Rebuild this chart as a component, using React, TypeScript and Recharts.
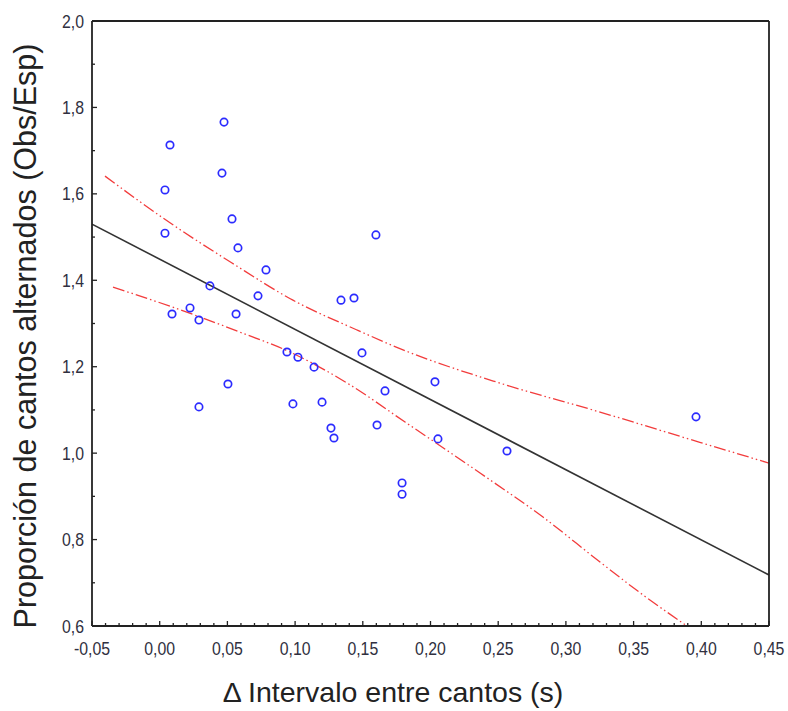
import React from "react";
import {
  ComposedChart,
  Scatter,
  Line,
  XAxis,
  YAxis,
  Label,
} from "recharts";

// observed points: delta interval (s) vs proportion obs/esp
const deltaX = [
  0.0076, 0.0039, 0.0039, 0.0475, 0.046, 0.0534, 0.0578, 0.0785, 0.0371, 0.0726,
  0.0224, 0.0091, 0.029, 0.0564, 0.1339, 0.1435, 0.1597, 0.1494, 0.094, 0.1021,
  0.114, 0.0504, 0.029, 0.0984, 0.1199, 0.1664, 0.2033, 0.1265, 0.1287, 0.1605,
  0.2055, 0.2565, 0.179, 0.179, 0.3961,
];
const proportion = [
  1.713, 1.609, 1.509, 1.766, 1.648, 1.542, 1.475, 1.424, 1.387, 1.364,
  1.336, 1.322, 1.308, 1.322, 1.354, 1.359, 1.505, 1.232, 1.234, 1.222,
  1.199, 1.16, 1.107, 1.114, 1.118, 1.144, 1.165, 1.058, 1.035, 1.065,
  1.033, 1.005, 0.931, 0.905, 1.084,
];

// fitted line (end points)
const fitX = [-0.05, 0.45];
const fitY = [1.53, 0.718];

// 95% band, upper and lower
const upperX = [-0.0404, 0.0076, 0.0534, 0.0984, 0.1457, 0.1797, 0.2513, 0.3252, 0.3989, 0.45];
const upperY = [1.641, 1.533, 1.44, 1.354, 1.285, 1.239, 1.162, 1.095, 1.025, 0.977];
const lowerX = [-0.0345, 0.0076, 0.0593, 0.0962, 0.1406, 0.1812, 0.2366, 0.2831, 0.3252, 0.3569, 0.3894];
const lowerY = [1.384, 1.34, 1.28, 1.234, 1.158, 1.072, 0.954, 0.852, 0.748, 0.672, 0.6];

const xMajor = [-0.05, 0, 0.05, 0.1, 0.15, 0.2, 0.25, 0.3, 0.35, 0.4, 0.45];
const yMajor = [0.6, 0.8, 1.0, 1.2, 1.4, 1.6, 1.8, 2.0];

const xTicks = Array.from({ length: 51 }, (_, i) => Math.round((-0.05 + i * 0.01) * 100) / 100);
const yTicks = Array.from({ length: 15 }, (_, i) => Math.round((0.6 + i * 0.1) * 10) / 10);

const pts = deltaX.map((x, i) => ({ x, y: proportion[i] }));
const fit = fitX.map((x, i) => ({ x, y: fitY[i] }));
const upper = upperX.map((x, i) => ({ x, y: upperY[i] }));
const lower = lowerX.map((x, i) => ({ x, y: lowerY[i] }));

const isMajor = (v: number, list: number[]) => list.some((m) => Math.abs(m - v) < 1e-6);
const comma = (v: number, d: number) => v.toFixed(d).replace(".", ",");

const LABEL_COLOR = "#303040";
const FONT = "'Liberation Sans', Arial, sans-serif";
const RED = "#f23c3c";
const INK = "#222";

const BottomTick = (props: any) => {
  const { x, y, payload } = props;
  const major = isMajor(payload.value, xMajor);
  return (
    <g>
      <line x1={x} x2={x} y1={y} y2={y - (major ? 5 : 3)} stroke={INK} strokeWidth={1.3} />
      {major && (
        <text
          transform={`translate(${x},${y + 29}) scale(0.88,1)`}
          textAnchor="middle"
          fontSize={18}
          fontFamily={FONT}
          fill={LABEL_COLOR}
        >
          {comma(payload.value, 2)}
        </text>
      )}
    </g>
  );
};

const TopTick = (props: any) => {
  const { x, y, payload } = props;
  const major = isMajor(payload.value, xMajor);
  return <line x1={x} x2={x} y1={y} y2={y + (major ? 5 : 3)} stroke={INK} strokeWidth={1.3} />;
};

const LeftTick = (props: any) => {
  const { x, y, payload } = props;
  const major = isMajor(payload.value, yMajor);
  return (
    <g>
      <line x1={x} x2={x + (major ? 5 : 3)} y1={y} y2={y} stroke={INK} strokeWidth={1.3} />
      {major && (
        <text
          transform={`translate(${x - 8},${y + 6.5}) scale(0.88,1)`}
          textAnchor="end"
          fontSize={18}
          fontFamily={FONT}
          fill={LABEL_COLOR}
        >
          {comma(payload.value, 1)}
        </text>
      )}
    </g>
  );
};

const RightTick = (props: any) => {
  const { x, y, payload } = props;
  const major = isMajor(payload.value, yMajor);
  return <line x1={x} x2={x - (major ? 5 : 3)} y1={y} y2={y} stroke={INK} strokeWidth={1.3} />;
};

const Ring = (props: any) => (
  <circle cx={props.cx} cy={props.cy} r={3.7} fill="none" stroke="#2b2bff" strokeWidth={1.7} />
);

const axisLine = { stroke: INK, strokeWidth: 1.8 };

export default function App() {
  return (
    <div style={{ position: "absolute", left: 0, top: 0, background: "#fff" }}>
      <ComposedChart
        width={788}
        height={711}
        margin={{ top: 0, right: 0, bottom: 0, left: 0 }}
      >
        <XAxis
          dataKey="x"
          type="number"
          domain={[-0.05, 0.45]}
          ticks={xTicks}
          interval={0}
          tickSize={0}
          tickMargin={0}
          tickLine={false}
          tick={<BottomTick />}
          axisLine={axisLine}
          height={85}
          allowDataOverflow
        >
          <Label
            content={() => (
              <text x={393} y={702} textAnchor="middle" fontSize={28.5} fontFamily={FONT} fill={INK}>
                Δ Intervalo entre cantos (s)
              </text>
            )}
          />
        </XAxis>
        <XAxis
          xAxisId="t"
          orientation="top"
          dataKey="x"
          type="number"
          domain={[-0.05, 0.45]}
          ticks={xTicks}
          interval={0}
          tickSize={0}
          tickMargin={0}
          tickLine={false}
          tick={<TopTick />}
          axisLine={axisLine}
          height={21}
        />
        <YAxis
          type="number"
          domain={[0.6, 2.0]}
          ticks={yTicks}
          interval={0}
          tickSize={0}
          tickMargin={0}
          tickLine={false}
          tick={<LeftTick />}
          axisLine={axisLine}
          width={92}
          allowDataOverflow
        >
          <Label
            content={() => (
              <text
                transform="translate(36,336) rotate(-90)"
                textAnchor="middle"
                fontSize={30.5}
                fontFamily={FONT}
                fill={INK}
              >
                Proporción de cantos alternados (Obs/Esp)
              </text>
            )}
          />
        </YAxis>
        <YAxis
          yAxisId="r"
          orientation="right"
          type="number"
          domain={[0.6, 2.0]}
          ticks={yTicks}
          interval={0}
          tickSize={0}
          tickMargin={0}
          tickLine={false}
          tick={<RightTick />}
          axisLine={axisLine}
          width={19}
        />
        <Line
          data={upper}
          dataKey="y"
          type="monotone"
          stroke={RED}
          strokeWidth={1.3}
          strokeDasharray="12 3 1.5 3 1.5 3"
          dot={false}
          activeDot={false}
          isAnimationActive={false}
        />
        <Line
          data={lower}
          dataKey="y"
          type="monotone"
          stroke={RED}
          strokeWidth={1.3}
          strokeDasharray="12 3 1.5 3 1.5 3"
          dot={false}
          activeDot={false}
          isAnimationActive={false}
        />
        <Line
          data={fit}
          dataKey="y"
          type="linear"
          stroke="#333"
          strokeWidth={1.6}
          dot={false}
          activeDot={false}
          isAnimationActive={false}
        />
        <Scatter data={pts} dataKey="y" shape={<Ring />} isAnimationActive={false} />
      </ComposedChart>
    </div>
  );
}
